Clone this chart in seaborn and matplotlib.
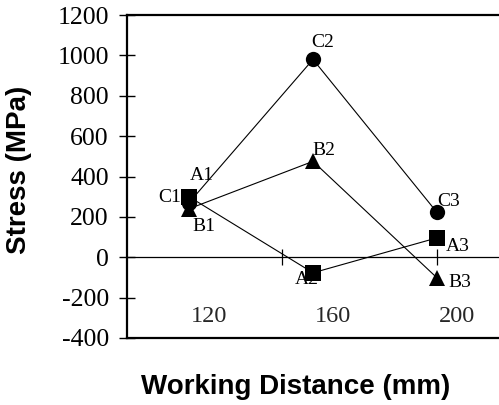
import matplotlib
matplotlib.use("Agg")
import matplotlib.pyplot as plt
import matplotlib.transforms as mtransforms
import seaborn as sns
import pandas as pd

# ---- data ----
distance = [120, 160, 200]
tick_labels = ["120", "160", "200"]
stress_A = [300, -77, 96]
stress_B = [240, 475, -102]
stress_C = [270, 980, 222]
point_labels_A = ["A1", "A2", "A3"]
point_labels_B = ["B1", "B2", "B3"]
point_labels_C = ["C1", "C2", "C3"]
yticks = [-400, -200, 0, 200, 400, 600, 800, 1000, 1200]
zero_axis_ticks = [150, 200]

df = pd.DataFrame({
    "distance": distance * 3,
    "stress": stress_A + stress_B + stress_C,
    "series": ["A"] * 3 + ["B"] * 3 + ["C"] * 3,
})

sns.set_theme(style="white")
plt.rcParams["font.family"] = ["Liberation Serif", "DejaVu Serif"]

fig = plt.figure(figsize=(4.99, 4.05), dpi=100)
ax = fig.add_axes([127 / 499, 1 - 338 / 405, 1 - 127 / 499, (338 - 15) / 405])

sns.lineplot(data=df, x="distance", y="stress", hue="series", style="series",
             markers={"A": "s", "B": "^", "C": "o"}, dashes=False,
             palette={"A": "black", "B": "black", "C": "black"},
             markersize=11, markeredgewidth=0, linewidth=0.8,
             legend=False, ax=ax, zorder=3)

ax.set_xlim(100, 220)
ax.set_ylim(-400, 1200)

# zero line
ax.axhline(0, color="black", linewidth=0.9, zorder=2)

# y axis
ax.set_yticks(yticks)
ax.set_yticklabels([str(v) for v in yticks], fontsize=18.5)
ax.tick_params(axis="y", direction="inout", length=12, width=1.0, pad=7,
               colors="black", left=True)

# x tick labels inside the plot area, shifted right
ax.set_xticks(distance)
ax.set_xticklabels(tick_labels, fontsize=17.5)
ax.tick_params(axis="x", length=0, pad=-8, bottom=True)
for lab in ax.get_xticklabels():
    lab.set_transform(lab.get_transform() +
                      mtransforms.ScaledTranslation(20 / 100, 0, fig.dpi_scale_trans))
    lab.set_verticalalignment("bottom")

# ticks on zero axis
sec = ax.secondary_xaxis((0 - (-400)) / 1600)
sec.set_xticks(zero_axis_ticks)
sec.set_xticklabels([""] * len(zero_axis_ticks))
sec.tick_params(direction="inout", length=11, width=0.9, colors="black")
sec.spines["bottom"].set_visible(False)
sec.spines["top"].set_visible(False)

for side in ["left", "bottom", "top"]:
    ax.spines[side].set_linewidth(1.6)
    ax.spines[side].set_color("black")
ax.spines["right"].set_visible(False)

# point labels
offsets_A = [(13, 21), (-6, -7), (21, -9)]
offsets_B = [(15, -18), (11, 11), (23, -5)]
offsets_C = [(-19, 5), (10, 17), (12, 11)]
for labels, vals, offs in [(point_labels_A, stress_A, offsets_A),
                           (point_labels_B, stress_B, offsets_B),
                           (point_labels_C, stress_C, offsets_C)]:
    for lab, x, y, off in zip(labels, distance, vals, offs):
        ax.annotate(lab, xy=(x, y), xytext=off, textcoords="offset pixels",
                    ha="center", va="center", fontsize=14, color="black", zorder=4)

ax.set_xlabel("Working Distance (mm)", fontsize=20, fontweight="bold",
              family=["Liberation Sans", "DejaVu Sans"], color="black")
ax.set_ylabel("Stress (MPa)", fontsize=20, fontweight="bold",
              family=["Liberation Sans", "DejaVu Sans"], color="black")
ax.xaxis.set_label_coords((296 - 127) / 372, (338 - 374) / 323)
ax.xaxis.label.set_va("top")
ax.yaxis.label.set_va("center")
ax.yaxis.label.set_ha("center")
ax.yaxis.set_label_coords((19 - 127) / 372, (338 - 170) / 323)

fig.savefig("out.png", dpi=100)
